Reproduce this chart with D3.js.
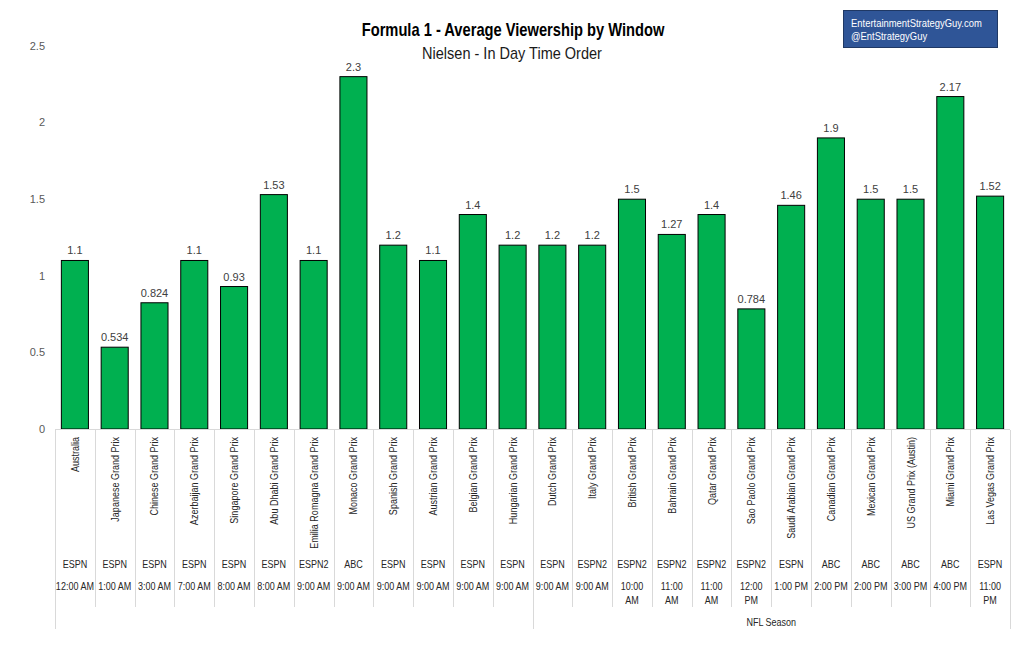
<!DOCTYPE html>
<html>
<head>
<meta charset="utf-8">
<script src="https://cdn.jsdelivr.net/npm/d3@7"></script>
<style>
  body { margin: 0; background: #fff; }
  svg { display: block; }
  text { font-family: "Liberation Sans", Arial, sans-serif; }
</style>
</head>
<body>
<svg width="1021" height="663"></svg>
<script>
var races = ["Australia", "Japanese Grand Prix", "Chinese Grand Prix", "Azerbaijan Grand Prix",
  "Singapore Grand Prix", "Abu Dhabi Grand Prix", "Emilia Romagna Grand Prix", "Monaco Grand Prix",
  "Spanish Grand Prix", "Austrian Grand Prix", "Belgian Grand Prix", "Hungarian Grand Prix",
  "Dutch Grand Prix", "Italy Grand Prix", "British Grand Prix", "Bahrain Grand Prix",
  "Qatar Grand Prix", "Sao Paolo Grand Prix", "Saudi Arabian Grand Prix", "Canadian Grand Prix",
  "Mexican Grand Prix", "US Grand Prix (Austin)", "Miami Grand Prix", "Las Vegas Grand Prix"];

var viewers = [1.1, 0.534, 0.824, 1.1, 0.93, 1.53, 1.1, 2.3, 1.2, 1.1, 1.4, 1.2,
  1.2, 1.2, 1.5, 1.27, 1.4, 0.784, 1.46, 1.9, 1.5, 1.5, 2.17, 1.52];

var networks = ["ESPN", "ESPN", "ESPN", "ESPN", "ESPN", "ESPN", "ESPN2", "ABC", "ESPN", "ESPN", "ESPN", "ESPN",
  "ESPN", "ESPN2", "ESPN2", "ESPN2", "ESPN2", "ESPN2", "ESPN", "ABC", "ABC", "ABC", "ABC", "ESPN"];

// "|" marks where excel wrapped the label
var times = ["12:00 AM", "1:00 AM", "3:00 AM", "7:00 AM", "8:00 AM", "8:00 AM", "9:00 AM", "9:00 AM",
  "9:00 AM", "9:00 AM", "9:00 AM", "9:00 AM", "9:00 AM", "9:00 AM", "10:00|AM", "11:00|AM",
  "11:00|AM", "12:00|PM", "1:00 PM", "2:00 PM", "2:00 PM", "3:00 PM", "4:00 PM", "11:00|PM"];

var groups = [{label: "", start: 0, end: 12}, {label: "NFL Season", start: 12, end: 24}];
var yTicks = [0, 0.5, 1, 1.5, 2, 2.5];
var credits = ["EntertainmentStrategyGuy.com", "@EntStrategyGuy"];

var svg = d3.select("svg"),
    width = +svg.attr("width"),
    height = +svg.attr("height");

var squeeze = 0.82; // no condensed font installed, so squash Liberation Sans

var x = d3.scaleBand()
    .domain(d3.range(races.length))
    .range([55, 1010])
    .paddingInner(0.32)
    .paddingOuter(0.16);

var step = x.step();
function edge(i) { return 55 + i * step; }
function mid(i) { return x(i) + x.bandwidth() / 2; }

var y = d3.scaleLinear()
    .domain([0, 2.5])
    .range([429, 46]);

// squash a text horizontally so it fills the given width, returns the factor
function fitWidth(sel, tx, ty, w) {
  var k = w / sel.node().getComputedTextLength();
  sel.attr("transform", "translate(" + tx + "," + ty + ") scale(" + k + ",1)");
  return k;
}

// titles
var title = svg.append("text")
    .attr("text-anchor", "middle")
    .style("font-size", "18px").style("font-weight", "bold")
    .style("fill", "#000")
    .text("Formula 1 - Average Viewership by Window");
fitWidth(title, 513, 36, 303);

var sub = svg.append("text")
    .attr("text-anchor", "middle")
    .style("font-size", "16px")
    .style("fill", "#1a1a1a")
    .text("Nielsen - In Day Time Order");
fitWidth(sub, 512, 59, 180);

// watermark box
var box = svg.append("g").attr("transform", "translate(843.5,10.5)");
box.append("rect")
    .attr("width", 154).attr("height", 37)
    .attr("fill", "#2F5597")
    .attr("stroke", "#1F3864").attr("stroke-width", 1);
var creditText = box.selectAll("text")
    .data(credits)
    .enter().append("text")
    .style("font-size", "11px").style("fill", "#fff")
    .text(function(d) { return d; });
var kBox = fitWidth(d3.select(creditText.nodes()[0]), 7.5, 16, 131);
d3.select(creditText.nodes()[1])
    .attr("transform", "translate(7.5,29) scale(" + kBox + ",1)");

// y axis labels, no line
svg.append("g")
    .selectAll("text")
    .data(yTicks)
    .enter().append("text")
    .attr("x", 45)
    .attr("y", function(d) { return y(d); })
    .attr("dy", "0.35em")
    .attr("text-anchor", "end")
    .style("font-size", "11px")
    .style("fill", "#595959")
    .text(function(d) { return d; });

// bars
svg.append("g")
    .selectAll("rect")
    .data(viewers)
    .enter().append("rect")
    .attr("x", function(d, i) { return x(i); })
    .attr("y", function(d) { return y(d); })
    .attr("width", x.bandwidth())
    .attr("height", function(d) { return y(0) - y(d); })
    .attr("fill", "#00B050")
    .attr("stroke", "#000")
    .attr("stroke-width", 1);

// value labels
svg.append("g")
    .selectAll("text")
    .data(viewers)
    .enter().append("text")
    .attr("x", function(d, i) { return mid(i); })
    .attr("y", function(d) { return y(d) - 6; })
    .attr("text-anchor", "middle")
    .style("font-size", "11px")
    .style("fill", "#404040")
    .text(function(d) { return d; });

// category axis
var axisG = svg.append("g").style("stroke", "#d9d9d9").style("stroke-width", 1);
axisG.append("line")
    .attr("x1", edge(0)).attr("x2", edge(races.length))
    .attr("y1", 429.5).attr("y2", 429.5);
axisG.selectAll("line.div")
    .data(d3.range(races.length + 1))
    .enter().append("line")
    .attr("class", "div")
    .attr("x1", function(i) { return Math.round(edge(i)) + 0.5; })
    .attr("x2", function(i) { return Math.round(edge(i)) + 0.5; })
    .attr("y1", 430)
    .attr("y2", function(i) {
      var isGroupEdge = groups.some(function(g) { return g.start === i || g.end === i; });
      return isGroupEdge ? 629 : 607;
    });

var labelColor = "#262626";

svg.append("g")
    .selectAll("text")
    .data(races)
    .enter().append("text")
    .attr("transform", function(d, i) {
      return "translate(" + (mid(i) + 4) + ",437) rotate(-90) scale(" + squeeze + ",1)";
    })
    .attr("text-anchor", "end")
    .style("font-size", "11px")
    .style("fill", labelColor)
    .text(function(d) { return d; });

svg.append("g")
    .selectAll("text")
    .data(networks)
    .enter().append("text")
    .attr("transform", function(d, i) {
      return "translate(" + mid(i) + ",568) scale(" + squeeze + ",1)";
    })
    .attr("text-anchor", "middle")
    .style("font-size", "11px")
    .style("fill", labelColor)
    .text(function(d) { return d; });

var timeText = svg.append("g")
    .selectAll("text")
    .data(times)
    .enter().append("text")
    .attr("transform", function(d, i) {
      return "translate(" + mid(i) + ",590) scale(" + squeeze + ",1)";
    })
    .attr("text-anchor", "middle")
    .style("font-size", "11px")
    .style("fill", labelColor);
timeText.each(function(d) {
  var t = d3.select(this);
  d.split("|").forEach(function(part, k) {
    t.append("tspan")
      .attr("x", 0)
      .attr("dy", k === 0 ? 0 : 14)
      .text(part);
  });
});

svg.append("g")
    .selectAll("text")
    .data(groups)
    .enter().append("text")
    .attr("transform", function(g) {
      return "translate(" + ((edge(g.start) + edge(g.end)) / 2) + ",626) scale(" + squeeze + ",1)";
    })
    .attr("text-anchor", "middle")
    .style("font-size", "11px")
    .style("fill", labelColor)
    .text(function(g) { return g.label; });
</script>
</body>
</html>
